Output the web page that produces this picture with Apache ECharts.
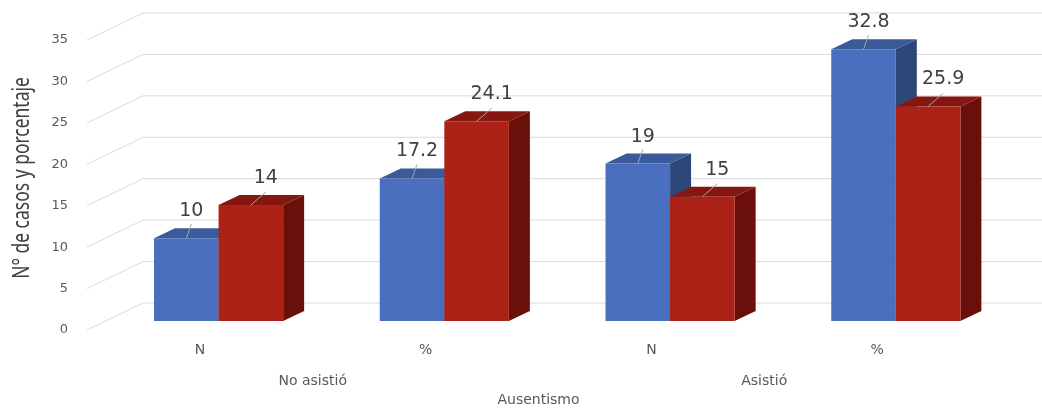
<!DOCTYPE html>
<html>
<head>
<meta charset="utf-8">
<script src="https://cdn.jsdelivr.net/npm/echarts@6/dist/echarts.min.js"></script>
<style>
  html, body { margin: 0; padding: 0; background: #ffffff; }
  #chart { width: 1042px; height: 420px; }
</style>
</head>
<body>
<div id="chart"></div>
<script>
// Ausentismo: casos (N) y porcentaje (%) por grupo
const categories = ['N', '%', 'N', '%'];
const groups = ['No asistió', 'Asistió'];
const blueValues = [10, 17.2, 19, 32.8];
const redValues = [14, 24.1, 15, 25.9];
const yTicks = [0, 5, 10, 15, 20, 25, 30, 35];
const yTitle = 'N° de casos y porcentaje';

// pseudo-3D geometry (pixel offsets from the front plane of the axes)
const WALL = [56, -27];      // back wall
const PLANE = [18.7, -9];    // front faces of the bars
const DEPTH = [21, -10];     // bar depth
const BAR_FRACTION = 0.286;  // width of one bar relative to the category band

const palette = {
  blue: { front: '#4A6FBF', top: '#3B5A99', side: '#2D4878', lineEnd: [5, -14], label: [5, -27] },
  red:  { front: '#AD2216', top: '#861710', side: '#6B0F0A', lineEnd: [15, -13], label: [15, -27] }
};

function barRenderer(colors, side) {
  return function (params, api) {
    const cat = api.value(0);
    const val = api.value(1);
    const band = api.size([1, 0])[0];
    const w = band * BAR_FRACTION;
    const pTop = api.coord([cat, val]);
    const pBase = api.coord([cat, 0]);
    const cx = pTop[0] + PLANE[0];
    const top = pTop[1] + PLANE[1];
    const base = pBase[1] + PLANE[1];
    const x0 = side < 0 ? cx - w : cx;
    const x1 = x0 + w;
    const dx = DEPTH[0], dy = DEPTH[1];
    const mid = (x0 + x1) / 2;
    return {
      type: 'group',
      children: [
        { type: 'polygon', shape: { points: [[x1, top], [x1 + dx, top + dy], [x1 + dx, base + dy], [x1, base]] },
          style: { fill: colors.side } },
        { type: 'polygon', shape: { points: [[x0, top], [x0 + dx, top + dy], [x1 + dx, top + dy], [x1, top]] },
          style: { fill: colors.top } },
        { type: 'rect', shape: { x: x0, y: top, width: w, height: base - top },
          style: { fill: colors.front } },
        { type: 'line', shape: { x1: mid, y1: top, x2: mid + colors.lineEnd[0], y2: top + colors.lineEnd[1] },
          style: { stroke: '#a6a6a6', lineWidth: 1 } },
        { type: 'text', x: mid + colors.label[0], y: top + colors.label[1],
          style: { text: String(val), fill: '#404040', font: '19px "DejaVu Sans", sans-serif',
                   align: 'center', verticalAlign: 'middle' } }
      ]
    };
  };
}

function wallRenderer(params, api) {
  const cs = params.coordSys;
  const y = api.coord([0, api.value(1)])[1];
  const x0 = cs.x;
  return {
    type: 'polyline',
    shape: { points: [[x0, y], [x0 + WALL[0], y + WALL[1]], [cs.x + cs.width + WALL[0] + 10, y + WALL[1]]] },
    style: { stroke: '#d9d9d9', lineWidth: 1, fill: null }
  };
}

const chart = echarts.init(document.getElementById('chart'), null, { renderer: 'canvas' });

const tickFont = { color: '#595959', fontFamily: 'DejaVu Sans' };

chart.setOption({
  animation: false,
  backgroundColor: '#ffffff',
  grid: { left: 87, right: 52, top: 40, bottom: 90, containLabel: false },
  // condensed, rotated value-axis title
  graphic: [{
    type: 'text', x: 22, y: 178, rotation: Math.PI / 2, scaleX: 0.76,
    style: { text: yTitle, fill: '#404040', font: '23px "Noto Sans", sans-serif',
             align: 'center', verticalAlign: 'middle' }
  }],
  xAxis: [
    {
      type: 'category', data: categories, position: 'bottom',
      axisLine: { show: false }, axisTick: { show: false },
      axisLabel: Object.assign({ fontSize: 14, margin: 13 }, tickFont)
    },
    {
      type: 'category', data: groups, position: 'bottom', offset: 31,
      axisLine: { show: false }, axisTick: { show: false },
      axisLabel: Object.assign({ fontSize: 14, margin: 13 }, tickFont),
      name: 'Ausentismo', nameLocation: 'middle', nameGap: 32,
      nameTextStyle: Object.assign({ fontSize: 14 }, tickFont)
    }
  ],
  yAxis: {
    type: 'value', min: 0, max: 35, interval: 5,
    axisLine: { show: false }, axisTick: { show: false }, splitLine: { show: false },
    axisLabel: Object.assign({ fontSize: 13, margin: 19 }, tickFont)
  },
  series: [
    {
      type: 'custom', name: 'grid', z: 1, silent: true,
      data: yTicks.map(v => [0, v]), encode: { x: 0, y: 1 },
      renderItem: wallRenderer
    },
    {
      type: 'custom', name: 'azul', z: 2,
      data: blueValues.map((v, i) => [i, v]), encode: { x: 0, y: 1 },
      renderItem: barRenderer(palette.blue, -1)
    },
    {
      type: 'custom', name: 'rojo', z: 3,
      data: redValues.map((v, i) => [i, v]), encode: { x: 0, y: 1 },
      renderItem: barRenderer(palette.red, 1)
    }
  ]
});
</script>
</body>
</html>
